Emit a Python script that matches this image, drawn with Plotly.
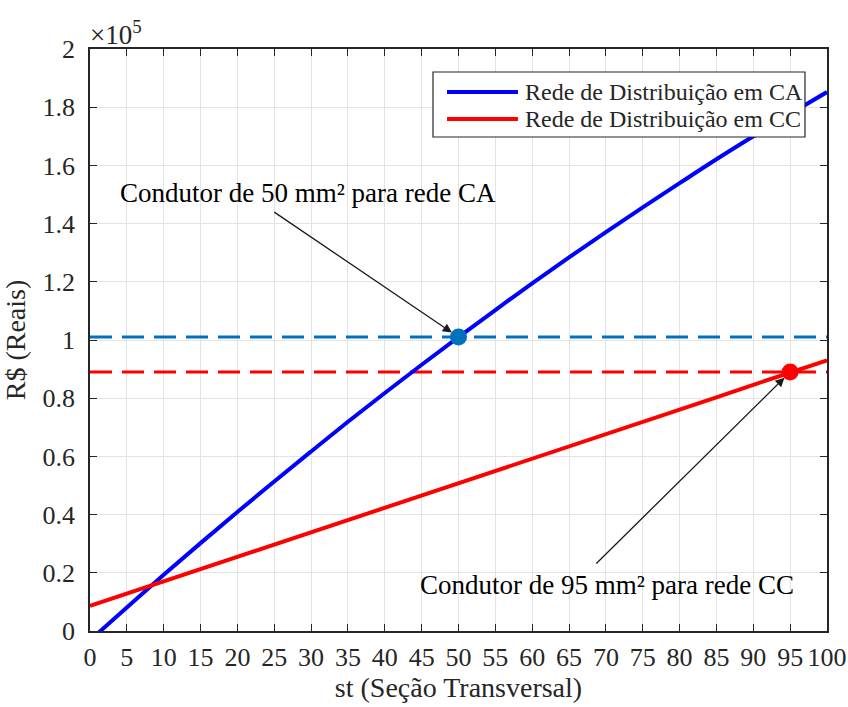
import plotly.graph_objects as go

# Cross-section (mm²)
secao = [0, 5, 10, 15, 20, 25, 30, 35, 40, 45, 50, 55, 60, 65, 70, 75, 80, 85, 90, 95, 100]
# Total cost in units of 10^5 R$
custo_ca = [-0.032, 0.081, 0.193, 0.302, 0.409, 0.514, 0.617, 0.719, 0.818, 0.915, 1.010,
            1.103, 1.195, 1.284, 1.371, 1.456, 1.539, 1.621, 1.700, 1.777, 1.852]
custo_cc = [0.086, 0.128, 0.170, 0.213, 0.255, 0.297, 0.339, 0.381, 0.424, 0.466, 0.508,
            0.550, 0.592, 0.635, 0.677, 0.719, 0.761, 0.803, 0.846, 0.888, 0.930]

# Chosen conductors
escolha_ca = (50, 1.01)
escolha_cc = (95, 0.89)

x_ticks = list(range(0, 101, 5))
y_ticks = [0, 0.2, 0.4, 0.6, 0.8, 1.0, 1.2, 1.4, 1.6, 1.8, 2.0]
y_labels = ["0", "0.2", "0.4", "0.6", "0.8", "1", "1.2", "1.4", "1.6", "1.8", "2"]

series_names = ["Rede de Distribuição em CA", "Rede de Distribuição em CC"]
series_colors = ["#0000FF", "#FF0000"]

FONT = "Liberation Serif"
BLUE_M = "#0072BD"
AX = "#262626"

fig = go.Figure()

# Reference levels (dashed)
fig.add_trace(go.Scatter(x=[secao[0], secao[-1]], y=[escolha_ca[1]] * 2, mode="lines",
                         line=dict(color=BLUE_M, width=3, dash="22px,10px"), showlegend=False))
fig.add_trace(go.Scatter(x=[secao[0], secao[-1]], y=[escolha_cc[1]] * 2, mode="lines",
                         line=dict(color="#FF0000", width=3, dash="22px,10px"), showlegend=False))

fig.add_trace(go.Scatter(x=secao, y=custo_ca, mode="lines", name=series_names[0],
                         line=dict(color=series_colors[0], width=4, shape="spline"), showlegend=False))
fig.add_trace(go.Scatter(x=secao, y=custo_cc, mode="lines", name=series_names[1],
                         line=dict(color=series_colors[1], width=4), showlegend=False))

fig.add_trace(go.Scatter(x=[escolha_ca[0]], y=[escolha_ca[1]], mode="markers",
                         marker=dict(color=BLUE_M, size=17), showlegend=False))
fig.add_trace(go.Scatter(x=[escolha_cc[0]], y=[escolha_cc[1]], mode="markers",
                         marker=dict(color="#FF0000", size=17), showlegend=False))

axis_common = dict(
    showline=True, linecolor=AX, linewidth=1.5, mirror="ticks",
    ticks="inside", ticklen=7, tickcolor=AX, tickwidth=1.2,
    showgrid=True, gridcolor="#e3e3e3", gridwidth=1, zeroline=False,
    tickfont=dict(family=FONT, size=26, color=AX), automargin=False,
)

fig.update_xaxes(range=[0, 100], tickvals=x_ticks, ticklabelstandoff=2, **axis_common,
                 title=dict(text="st (Seção Transversal)", font=dict(family=FONT, size=28, color=AX),
                            standoff=2))
fig.update_yaxes(range=[0, 2], tickvals=y_ticks, ticktext=y_labels, ticklabelstandoff=8, **axis_common,
                 title=dict(text="R$ (Reais)", font=dict(family=FONT, size=28, color=AX),
                            standoff=10))

annotations = [
    dict(x=0, y=1, xref="paper", yref="paper", xanchor="left", yanchor="bottom",
         text="×10<sup>5</sup>", showarrow=False, xshift=-2, yshift=-3,
         font=dict(family=FONT, size=27, color=AX)),
    # arrows
    dict(x=escolha_ca[0], y=escolha_ca[1], ax=24.8, ay=1.443, xref="x", yref="y", axref="x", ayref="y",
         text="", showarrow=True, arrowhead=2, arrowsize=1.4, arrowwidth=1.3, arrowcolor="#1a1a1a", standoff=8),
    dict(x=escolha_cc[0], y=escolha_cc[1], ax=68.5, ay=0.227, xref="x", yref="y", axref="x", ayref="y",
         text="", showarrow=True, arrowhead=2, arrowsize=1.4, arrowwidth=1.3, arrowcolor="#1a1a1a", standoff=8),
    # labels
    dict(x=29.6, y=1.505, xref="x", yref="y", text="Condutor de 50 mm² para rede CA", showarrow=False,
         font=dict(family=FONT, size=27, color="#000000")),
    dict(x=70.2, y=0.158, xref="x", yref="y", text="Condutor de 95 mm² para rede CC", showarrow=False,
         font=dict(family=FONT, size=27, color="#000000")),
]

# Legend box drawn in paper coordinates
leg_x0, leg_x1, leg_y0, leg_y1 = 0.4654, 0.9701, 0.8488, 0.9605
row_y = [0.9261, 0.8797]
shapes = [dict(type="rect", xref="paper", yref="paper", x0=leg_x0, x1=leg_x1, y0=leg_y0, y1=leg_y1,
               line=dict(color=AX, width=1.2), fillcolor="white", layer="above")]
for name, color, ry in zip(series_names, series_colors, row_y):
    shapes.append(dict(type="line", xref="paper", yref="paper", x0=0.4844, x1=0.5807, y0=ry, y1=ry,
                       line=dict(color=color, width=4), layer="above"))
    annotations.append(dict(x=0.5875, y=ry, xref="paper", yref="paper", xanchor="left", yanchor="middle",
                            text=name, showarrow=False, font=dict(family=FONT, size=24, color=AX)))

fig.update_layout(
    width=848, height=707,
    margin=dict(l=90, r=21, t=49, b=76),
    paper_bgcolor="white", plot_bgcolor="white",
    annotations=annotations, shapes=shapes,
    showlegend=False,
)

fig.write_html("out.html")
